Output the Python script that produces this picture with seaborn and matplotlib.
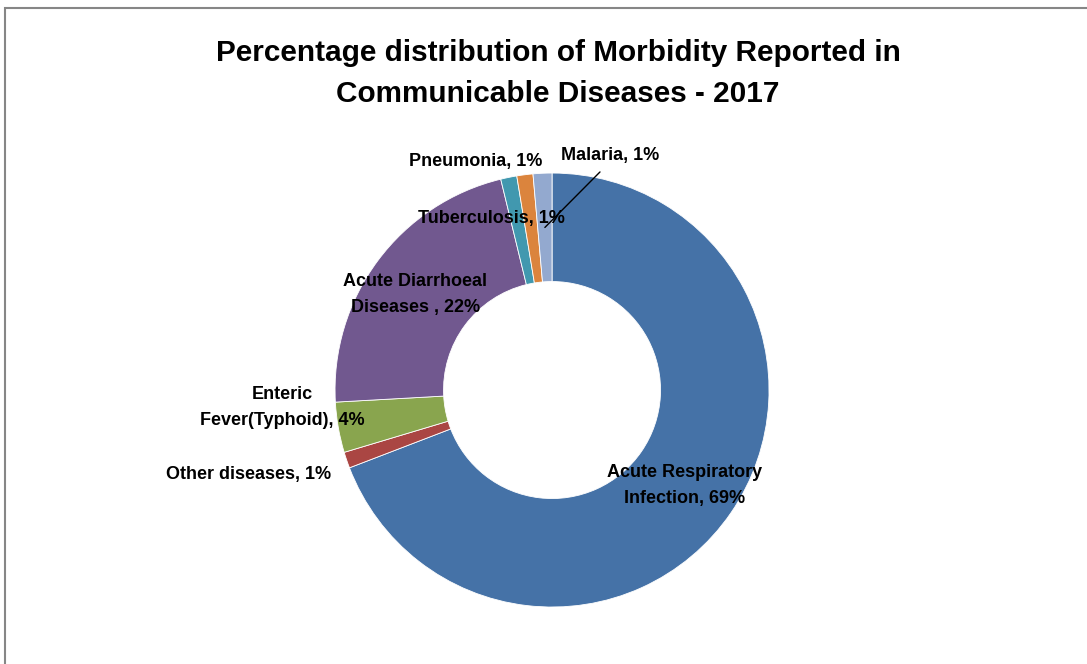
import numpy as np
import matplotlib
matplotlib.use("Agg")
import matplotlib.pyplot as plt
import seaborn as sns
from matplotlib.patches import Rectangle

# slices, clockwise from 12 o'clock
diseases = ["Acute Respiratory Infection", "Other diseases", "Enteric Fever(Typhoid)",
            "Acute Diarrhoeal Diseases", "Tuberculosis", "Pneumonia", "Malaria"]
shares = [69.2, 1.2, 3.75, 22.1, 1.2, 1.2, 1.4]
labels = ["Acute Respiratory\nInfection, 69%", "Other diseases, 1%",
          "Enteric\nFever(Typhoid), 4%", "Acute Diarrhoeal\nDiseases , 22%",
          "Tuberculosis, 1%", "Pneumonia, 1%", "Malaria, 1%"]
colors = ["#4572A7", "#AA4643", "#89A54E", "#71588F", "#4198AF", "#DB843D", "#93A9CF"]

# label positions (data units, pie radius = 1)
label_pos = [(0.61, -0.44), (-1.40, -0.39), (-1.245, -0.08), (-0.63, 0.44),
             (-0.28, 0.79), (-0.35, 1.055), (0.27, 1.083)]

sns.set_theme(style="white")
plt.rcParams["font.family"] = ["Liberation Sans", "DejaVu Sans"]

fig = plt.figure(figsize=(10.87, 6.64), dpi=100)
ax = fig.add_axes([0.3082, 0.0858, 0.3993, 0.6536])

wedges, _ = ax.pie(shares, colors=colors, startangle=90, counterclock=False,
                   radius=1, wedgeprops=dict(width=0.5, edgecolor="white", linewidth=0.6))
ax.set_xlim(-1, 1)
ax.set_ylim(-1, 1)
ax.set_aspect("equal")
ax.axis("off")

for lab, (x, y) in zip(labels, label_pos):
    ax.text(x, y, lab, ha="center", va="center", fontsize=13, fontweight="bold",
            color="black", linespacing=1.68, clip_on=False)

# leader line for Malaria to the middle of its slice
w = wedges[-1]
mid = np.deg2rad((w.theta1 + w.theta2) / 2)
ax.plot([0.221, 0.75 * np.cos(mid)], [1.005, 0.75 * np.sin(mid)], color="black",
        lw=1, clip_on=False)

fig.text(0.5135, 0.889, "Percentage distribution of Morbidity Reported in\nCommunicable Diseases - 2017",
         ha="center", va="center", fontsize=21.4, fontweight="bold", color="black",
         linespacing=1.58)

fig.patches.append(Rectangle((5 / 1087, -0.05), 1.2, (664 - 8) / 664 + 0.05,
                             transform=fig.transFigure, fill=False,
                             edgecolor="#868686", linewidth=1.5))

fig.savefig("out.png", dpi=100)
